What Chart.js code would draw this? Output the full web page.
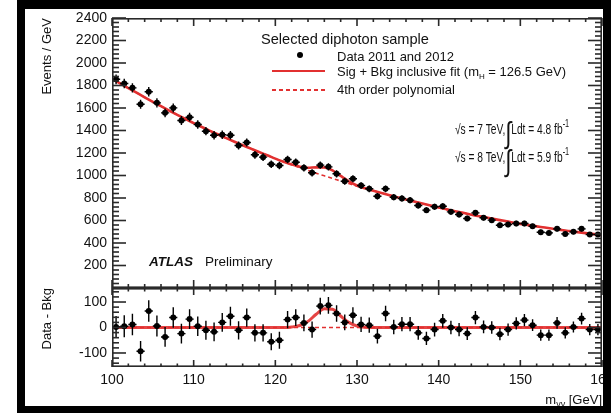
<!DOCTYPE html>
<html><head><meta charset="utf-8">
<script src="https://cdn.jsdelivr.net/npm/chart.js@4.4.0/dist/chart.umd.min.js"></script>
<style>
html,body{margin:0;padding:0;background:#fff;width:611px;height:413px;overflow:hidden;font-family:"Liberation Sans",Arial,sans-serif;color:#111;}
#wrap{position:relative;width:611px;height:413px;}
canvas{position:absolute;left:0;top:0;}
.fr{position:absolute;background:#000;z-index:5;}
.t{position:absolute;white-space:nowrap;line-height:1;z-index:3;font-size:13px;}
.vt{position:absolute;white-space:nowrap;line-height:1;z-index:3;font-size:13px;writing-mode:vertical-rl;transform:rotate(180deg);}
.lum{position:absolute;white-space:nowrap;line-height:1;z-index:3;font-size:14px;transform:scaleX(0.73);transform-origin:0 50%;}
</style></head><body>
<div id="wrap">
<canvas id="c1" width="611" height="413" style="width:611px;height:413px"></canvas>
<canvas id="c2" width="611" height="413" style="width:611px;height:413px"></canvas>

<div class="vt" style="left:40px;top:18px;">Events / GeV</div>
<div class="vt" style="left:40px;top:288px;">Data - Bkg</div>
<div class="t" style="right:9px;top:393px;">m<sub style="font-size:9px;vertical-align:-3px">γγ</sub> [GeV]</div>

<div class="t" style="left:261px;top:32px;font-size:14.6px;">Selected diphoton sample</div>
<div style="position:absolute;left:297px;top:52px;width:6px;height:6px;border-radius:50%;background:#000;z-index:3"></div>
<div class="t" style="left:337px;top:50px;">Data 2011 and 2012</div>
<div style="position:absolute;left:272px;top:70px;width:53px;height:2px;background:rgb(226,48,48);z-index:3"></div>
<div class="t" style="left:337px;top:65px;">Sig + Bkg inclusive fit (m<sub style="font-size:8px;vertical-align:-3px">H</sub> = 126.5 GeV)</div>
<div style="position:absolute;left:272px;top:89px;width:53px;height:1.5px;background:repeating-linear-gradient(90deg,rgb(226,48,48) 0 4px,transparent 4px 7px);z-index:3"></div>
<div class="t" style="left:337px;top:83px;">4th order polynomial</div>

<div class="lum" style="left:455px;top:118px;">√s = 7 TeV,<span style="font-size:30px;vertical-align:-9px">∫</span>Ldt = 4.8 fb<sup style="font-size:10px;vertical-align:7px">-1</sup></div>
<div class="lum" style="left:455px;top:146px;">√s = 8 TeV,<span style="font-size:30px;vertical-align:-9px">∫</span>Ldt = 5.9 fb<sup style="font-size:10px;vertical-align:7px">-1</sup></div>

<div class="t" style="left:149px;top:255px;font-size:13.5px;"><b><i>ATLAS</i></b></div>
<div class="t" style="left:205px;top:255px;font-size:13.5px;">Preliminary</div>

<div class="fr" style="left:17px;top:0;width:594px;height:9px;"></div>
<div class="fr" style="left:17px;top:0;width:8px;height:413px;"></div>
<div class="fr" style="left:603px;top:0;width:8px;height:413px;"></div>
<div class="fr" style="left:17px;top:406px;width:594px;height:7px;"></div>
</div>
<script>
// ---- data ----
const binCenters = [100.5,101.5,102.5,103.5,104.5,105.5,106.5,107.5,108.5,109.5,
  110.5,111.5,112.5,113.5,114.5,115.5,116.5,117.5,118.5,119.5,
  120.5,121.5,122.5,123.5,124.5,125.5,126.5,127.5,128.5,129.5,
  130.5,131.5,132.5,133.5,134.5,135.5,136.5,137.5,138.5,139.5,
  140.5,141.5,142.5,143.5,144.5,145.5,146.5,147.5,148.5,149.5,
  150.5,151.5,152.5,153.5,154.5,155.5,156.5,157.5,158.5,159.5];
const events = [1855,1818,1779,1634,1744,1646,1557,1601,1489,1518,
  1453,1394,1358,1362,1358,1267,1293,1184,1163,1100,
  1089,1142,1118,1068,1024,1092,1077,1015,949,971,
  911,882,816,882,807,796,781,733,692,722,
  727,677,653,618,668,624,603,558,564,573,
  573,549,496,490,526,481,499,526,476,476];
const eventErr = [43,43,42,40,42,41,39,40,39,39,
  38,37,37,37,37,36,36,34,34,33,
  33,34,33,33,32,33,33,32,31,31,
  30,30,29,30,28,28,28,27,26,27,
  27,26,26,25,26,25,25,24,24,24,
  24,23,22,22,23,22,22,23,22,22];
const residual = [2,5,12,-93,65,6,-37,39,-24,33,
  5,-11,-17,20,44,-11,39,-21,-21,-56,
  -50,31,39,18,-8,84,87,55,20,48,
  12,9,-34,55,2,13,13,-21,-43,-8,
  26,0,-8,-24,39,2,0,-26,-8,16,
  29,9,-30,-30,18,-21,2,35,-8,-8];
const fitMass = [100,101,102,103,104,105,106,107,108,109,
  110,111,112,113,114,115,116,117,118,119,
  120,121,122,123,124,125,126,127,128,129,
  130,131,132,133,134,135,136,137,138,139,
  140,141,142,143,144,145,146,147,148,149,
  150,151,152,153,154,155,156,157,158,159,160];
const bkgFit = [1860,1818,1777,1736,1695,1655,1616,1577,1539,1502,
  1465,1431,1397,1364,1332,1300,1269,1239,1209,1180,
  1150,1123,1096,1070,1045,1020,997,974,951,928,
  905,885,865,845,825,805,787,769,751,733,
  715,699,683,668,652,637,624,610,597,583,
  570,559,548,537,526,515,506,497,488,479,470];
const sigMass = [121,122,123,124,125,126,127,128,129,130,131,132];
const sigFit  = [0,2,8,24,52,74,72,45,20,6,1,0];
const xTickLabels = [100,110,120,130,140,150,160];
const yMainTicks = [200,400,600,800,1000,1200,1400,1600,1800,2000,2200,2400];
const yResTicks = [-100,0,100];

// ---- helpers ----
const RED = 'rgb(226,48,48)';
const FONT = '"Liberation Sans", Arial, sans-serif';
function sigAt(m){ const i = sigMass.indexOf(m); return i < 0 ? 0 : sigFit[i]; }

function makeErrorBars(values){
  return {
    id:'errorBars',
    afterDatasetsDraw(chart){
      const ctx = chart.ctx, a = chart.chartArea, x = chart.scales.x, y = chart.scales.y;
      ctx.save(); ctx.beginPath(); ctx.rect(a.left, a.top, a.width, a.height); ctx.clip();
      ctx.strokeStyle = '#000'; ctx.lineWidth = 1.4; ctx.setLineDash([]);
      binCenters.forEach((m,i)=>{
        const v = values[i], e = eventErr[i];
        const px = x.getPixelForValue(m), py = y.getPixelForValue(v);
        ctx.beginPath();
        ctx.moveTo(px, y.getPixelForValue(v-e)); ctx.lineTo(px, y.getPixelForValue(v+e));
        ctx.moveTo(x.getPixelForValue(m-0.5), py); ctx.lineTo(x.getPixelForValue(m+0.5), py);
        ctx.stroke();
      });
      ctx.restore();
    }
  };
}
function makeAxes(c){
  return {
    id:'rootAxes',
    afterDraw(chart){
      const ctx = chart.ctx, a = chart.chartArea, x = chart.scales.x, y = chart.scales.y;
      const L = Math.round(a.left), R = Math.round(a.right), T = Math.round(a.top), B = Math.round(a.bottom);
      const w = 1.6;
      ctx.save();
      ctx.fillStyle = '#2a2a2a';
      ctx.fillRect(L, T, R-L, w); ctx.fillRect(L, B-w, R-L, w);
      ctx.fillRect(L, T, w, B-T); ctx.fillRect(R-w, T, w, B-T);
      const nY = Math.round((c.yTo - c.yFrom)/c.yMinor);
      for (let k = 0; k <= nY; k++){
        const v = c.yFrom + k*c.yMinor;
        const major = Math.abs(v % c.yMajor) < 1e-6;
        const len = major ? c.yLen : c.yLen/2;
        const py = y.getPixelForValue(v);
        ctx.fillRect(L, py-w/2, len, w);
        ctx.fillRect(R-len, py-w/2, len, w);
      }
      for (let k = 0; k <= 30; k++){
        const m = 100 + 2*k;
        const major = (m % 10) === 0;
        const px = x.getPixelForValue(m);
        const lt = major ? c.xTop : c.xTop/2, lb = major ? c.xBot : c.xBot/2;
        ctx.fillRect(px-w/2, T, w, lt);
        ctx.fillRect(px-w/2, B-lb, w, lb);
      }
      ctx.restore();
    }
  };
}
const tickFont = {family: FONT, size: 14};
const plain = v => String(v);

// ---- upper panel ----
new Chart(document.getElementById('c1'), {
  type:'scatter',
  data:{datasets:[
    {data: binCenters.map((m,i)=>({x:m, y:events[i]})), pointRadius:3, pointHoverRadius:3, backgroundColor:'#000', borderWidth:0, order:0},
    {data: fitMass.map((m,i)=>({x:m, y:bkgFit[i]+sigAt(m)})), showLine:true, borderColor:RED, borderWidth:2.6, pointRadius:0, cubicInterpolationMode:'monotone', order:1},
    {data: fitMass.map((m,i)=>({x:m, y:bkgFit[i]})), showLine:true, borderColor:RED, borderWidth:1.6, borderDash:[4,3], pointRadius:0, cubicInterpolationMode:'monotone', order:2}
  ]},
  options:{
    responsive:false, animation:false, events:[],
    layout:{padding:{left:0, right:9, top:18, bottom:125}},
    plugins:{legend:{display:false}, tooltip:{enabled:false}},
    scales:{
      x:{type:'linear', min:100, max:160, display:false},
      y:{type:'linear', min:0, max:2400,
        afterBuildTicks: s => { s.ticks = yMainTicks.map(v=>({value:v})); },
        ticks:{font:tickFont, color:'#111', padding:5, callback:plain},
        grid:{display:false, drawTicks:false}, border:{display:false},
        afterFit: s => { s.width = 112; }}
    }
  },
  plugins:[makeErrorBars(events), makeAxes({yFrom:0, yTo:2400, yMinor:40, yMajor:200, yLen:14, xTop:8, xBot:8})]
});

// ---- lower panel ----
new Chart(document.getElementById('c2'), {
  type:'scatter',
  data:{datasets:[
    {data: binCenters.map((m,i)=>({x:m, y:residual[i]})), pointRadius:3, pointHoverRadius:3, backgroundColor:'#000', borderWidth:0, order:0},
    {data: fitMass.map(m=>({x:m, y:sigAt(m)})), showLine:true, borderColor:'rgba(226,48,48,0.9)', borderWidth:3, pointRadius:0, cubicInterpolationMode:'monotone', order:1},
    {data: fitMass.map((m,i)=>({x:m, y:bkgFit[i]-bkgFit[i]})), showLine:true, borderColor:RED, borderWidth:1.6, borderDash:[4,3], pointRadius:0, order:2}
  ]},
  options:{
    responsive:false, animation:false, events:[],
    layout:{padding:{left:0, right:9, top:288, bottom:0}},
    plugins:{legend:{display:false}, tooltip:{enabled:false}},
    scales:{
      x:{type:'linear', min:100, max:160,
        afterBuildTicks: s => { s.ticks = xTickLabels.map(v=>({value:v})); },
        ticks:{font:tickFont, color:'#111', padding:5, maxRotation:0, autoSkip:false, callback:plain},
        grid:{display:false, drawTicks:false}, border:{display:false},
        afterFit: s => { s.height = 46; s.paddingLeft = 0; s.paddingRight = 0; }},
      y:{type:'linear', min:-155, max:155,
        afterBuildTicks: s => { s.ticks = yResTicks.map(v=>({value:v})); },
        ticks:{font:tickFont, color:'#111', padding:5, callback:plain},
        grid:{display:false, drawTicks:false}, border:{display:false},
        afterFit: s => { s.width = 112; }}
    }
  },
  plugins:[makeErrorBars(residual), makeAxes({yFrom:-140, yTo:140, yMinor:20, yMajor:100, yLen:14, xTop:7, xBot:7})]
});
</script>
</body></html>
